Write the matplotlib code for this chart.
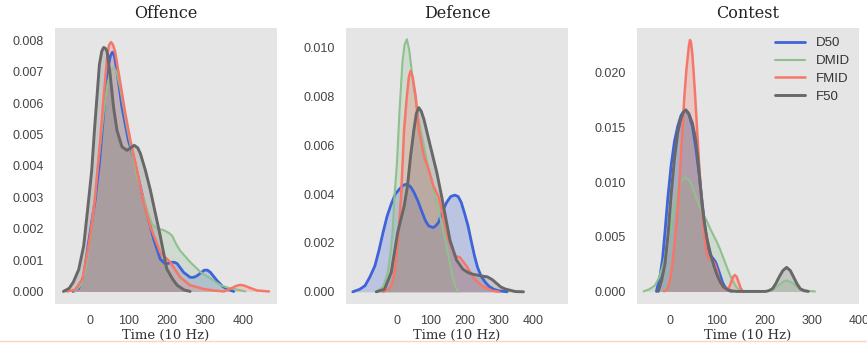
import matplotlib
matplotlib.use("Agg")
import matplotlib.pyplot as plt
from matplotlib.lines import Line2D
from matplotlib.ticker import FormatStrFormatter

# ---- Offence ----
off_d50_x = [-45, -30, -17, -5, 5, 13, 24, 35, 42, 48, 53, 58, 63, 70, 83, 100, 113, 139, 166, 183, 196, 205, 213, 220,
             227, 244, 261, 270, 279, 290, 298, 306, 314, 331, 345, 357, 375]
off_d50_y = [0, 0.0001, 0.0005, 0.0015, 0.0023, 0.00293, 0.00408, 0.00567, 0.0067, 0.00723, 0.00752, 0.00763, 0.00752,
             0.00702, 0.00587, 0.0048, 0.00429, 0.00292, 0.00166, 0.00103, 0.00088, 0.0009, 0.00093, 0.00093, 0.00089,
             0.00061, 0.00045, 0.00045, 0.0005, 0.0006, 0.00068, 0.00068, 0.00061, 0.00035, 0.00017, 0.00008, 0]
off_dmid_x = [-40, -25, -13, 0, 10, 22, 35, 45, 52, 58, 63, 70, 78, 96, 122, 148, 161, 170, 179, 188, 196, 206, 214,
              225, 235, 261, 290, 314, 340, 360, 392, 405]
off_dmid_y = [0, 0.0002, 0.0006, 0.0017, 0.0028, 0.0042, 0.0057, 0.0066, 0.00698, 0.00712, 0.00713, 0.00695, 0.0065,
              0.00524, 0.00366, 0.00261, 0.00215, 0.00205, 0.00199, 0.00197, 0.00193, 0.00186, 0.00178, 0.0015, 0.0013,
              0.00094, 0.0006, 0.00041, 0.0002, 0.00012, 0.00004, 0]
off_fmid_x = [-61, -40, -20, -5, 5, 13, 20, 26, 35, 44, 49, 54, 59, 65, 78, 92, 105, 122, 140, 157, 183, 209, 235, 261,
              296, 322, 349, 366, 380, 391, 402, 414, 436, 467]
off_fmid_y = [0, 0.00005, 0.0004, 0.0014, 0.0022, 0.00303, 0.004, 0.00482, 0.00618, 0.00744, 0.00785, 0.00795, 0.00788,
              0.00765, 0.0067, 0.00566, 0.00482, 0.00387, 0.0028, 0.00208, 0.00124, 0.00094, 0.00045, 0.0002, 0.00008,
              0.00003, 0, 0.00008, 0.00017, 0.00021, 0.00019, 0.00013, 0.00003, 0]
off_f50_x = [-70, -55, -44, -30, -17, -4, 4, 11, 17.5, 24, 30, 35, 40, 44, 52, 61, 70, 83, 96, 106, 115, 124, 131, 144,
             157, 170, 183, 200, 215, 227, 245, 261]
off_f50_y = [0, 0.0001, 0.0003, 0.0007, 0.00146, 0.00293, 0.00387, 0.00513, 0.00618, 0.00723, 0.00765, 0.00778,
             0.00775, 0.00765, 0.00692, 0.00587, 0.00513, 0.00461, 0.0045, 0.00458, 0.00466, 0.00458, 0.0044, 0.00387,
             0.00324, 0.0025, 0.00177, 0.00072, 0.0004, 0.0002, 0.00005, 0]

# ---- Defence ----
def_d50_x = [-130, -110, -94, -80, -65, -53, -41, -29, -17, -5, 7, 18, 29, 40, 50, 62, 74, 84, 93, 106, 114, 122, 134,
             146, 158, 170, 180, 189, 199, 209, 218, 228, 237, 247, 259, 271, 285, 300, 324]
def_d50_y = [0, 0.0001, 0.00025, 0.0006, 0.00106, 0.0017, 0.00243, 0.0031, 0.00359, 0.004, 0.0042, 0.00436, 0.00441,
             0.0043, 0.00407, 0.0037, 0.00325, 0.0029, 0.0027, 0.00263, 0.0027, 0.00284, 0.0033, 0.00366, 0.0039,
             0.00396, 0.0039, 0.00366, 0.0032, 0.0027, 0.0021, 0.00147, 0.001, 0.00065, 0.0004, 0.00022, 0.0001,
             0.00004, 0]
def_dmid_x = [-60, -41, -27, -18, -12, -8, 0, 7, 16, 22, 29, 36, 42, 50, 60, 70, 83, 98, 115, 130, 145, 155, 165, 172,
              180]
def_dmid_y = [0, 0.0002, 0.0008, 0.0017, 0.0026, 0.0038, 0.0053, 0.0073, 0.0094, 0.0101, 0.01034, 0.0099, 0.0092,
              0.0083, 0.0074, 0.0066, 0.0057, 0.0047, 0.0038, 0.0029, 0.0019, 0.0012, 0.0005, 0.0002, 0]
def_fmid_x = [-40, -25, -15, -8, -3, 5, 12, 21, 29, 35, 40, 46, 55, 64, 79, 93, 107, 122, 132, 151, 170, 185, 204, 228,
              252, 281, 300]
def_fmid_y = [0, 0.0001, 0.0003, 0.0007, 0.0012, 0.0025, 0.00393, 0.00666, 0.008, 0.0088, 0.00904, 0.0088, 0.008,
              0.00666, 0.00556, 0.00502, 0.00434, 0.0039, 0.0033, 0.00216, 0.00147, 0.00141, 0.00106, 0.00052, 0.00022,
              0.00004, 0]
def_f50_x = [-61, -37, -17, 2, 21, 31, 40, 50, 57, 64, 71, 79, 98, 117, 131, 145, 156, 175, 194, 210, 223, 247, 266,
             280, 290, 305, 319, 348, 372]
def_f50_y = [0, 0.0001, 0.00079, 0.00243, 0.0035, 0.00434, 0.00556, 0.00666, 0.0073, 0.00754, 0.0074, 0.00707,
             0.00597, 0.00489, 0.00393, 0.0029, 0.0021, 0.0013, 0.00092, 0.00078, 0.00072, 0.00065, 0.00061, 0.0005,
             0.00038, 0.0002, 0.00011, 0.00001, 0]

# ---- Contest ----
con_d50_x = [-28, -20, -15, -10, -4, 3, 10, 17, 24, 30, 34, 40, 48, 55, 62, 69, 76, 81, 86, 92, 97, 102, 107, 112, 117,
             124, 131]
con_d50_y = [0, 0.0015, 0.003, 0.0054, 0.0085, 0.0115, 0.0137, 0.0151, 0.0161, 0.0165, 0.0166, 0.0163, 0.0151, 0.0132,
             0.0108, 0.008, 0.0054, 0.0041, 0.0033, 0.003, 0.0027, 0.0021, 0.00145, 0.0008, 0.0004, 0.0001, 0]
con_dmid_x = [-55, -43, -31, -22, -14, -7, 0, 7, 14, 19, 24, 29, 34, 40, 45, 55, 62, 69, 78, 86, 93, 100, 107, 114, 121,
              128, 134, 141, 148, 155, 200, 210, 217, 225, 234, 240, 247, 254, 262, 270, 279, 292, 307]
con_dmid_y = [0, 0.0002, 0.00055, 0.0013, 0.0024, 0.0038, 0.0054, 0.0071, 0.0087, 0.0095, 0.0101, 0.0103, 0.0104,
              0.0102, 0.0099, 0.0087, 0.0079, 0.0072, 0.0065, 0.0057, 0.0051, 0.0045, 0.0038, 0.003, 0.0022, 0.00145,
              0.0009, 0.0004, 0.0001, 0, 0, 0.00005, 0.0001, 0.0004, 0.0007, 0.0009, 0.001, 0.0009, 0.0007, 0.0004,
              0.0002, 0.00005, 0]
con_fmid_x = [-12, -5, 0, 5, 10, 16, 21, 26, 31, 35, 38, 41, 43, 45, 48, 51, 54, 58, 62, 67, 72, 76, 79, 83, 88, 93, 97,
              100, 105, 110, 116, 122, 127, 131, 135, 138, 142, 146, 150, 155]
con_fmid_y = [0, 0.0002, 0.00085, 0.0022, 0.0042, 0.007, 0.0102, 0.014, 0.0178, 0.0201, 0.0214, 0.0226, 0.0230, 0.0228,
              0.0217, 0.0198, 0.0178, 0.0148, 0.0118, 0.0085, 0.0057, 0.004, 0.0033, 0.003, 0.0029, 0.0027, 0.0023,
              0.0019, 0.0011, 0.0006, 0.0002, 0.0002, 0.0005, 0.001, 0.0014, 0.0015, 0.0013, 0.0008, 0.0003, 0]
con_f50_x = [-24, -17, -10, -3, 3, 10, 17, 23, 29, 34, 41, 48, 54, 59, 64, 69, 74, 79, 86, 93, 100, 107, 114, 121, 131,
             141, 203, 210, 217, 224, 231, 239, 247, 255, 262, 269, 276, 284, 293]
con_f50_y = [0, 0.001, 0.0025, 0.0054, 0.0088, 0.0121, 0.0145, 0.0157, 0.0164, 0.0166, 0.0162, 0.0154, 0.0141, 0.0124,
             0.0101, 0.0078, 0.0061, 0.0048, 0.0035, 0.0024, 0.0015, 0.00085, 0.0004, 0.0002, 0.00005, 0, 0, 0.00008,
             0.00024, 0.0007, 0.0013, 0.0019, 0.0022, 0.0019, 0.0013, 0.0007, 0.00024, 0.00006, 0]

labels = ["D50", "DMID", "FMID", "F50"]
colors = ["#3f63d8", "#8fc08f", "#f5776a", "#686868"]
widths = [2.0, 1.5, 1.8, 2.1]

panels = [
    ("Offence", [(off_d50_x, off_d50_y), (off_dmid_x, off_dmid_y), (off_fmid_x, off_fmid_y), (off_f50_x, off_f50_y)],
     (-92, 488), (-0.0004, 0.0084), [0, 0.001, 0.002, 0.003, 0.004, 0.005, 0.006, 0.007, 0.008]),
    ("Defence", [(def_d50_x, def_d50_y), (def_dmid_x, def_dmid_y), (def_fmid_x, def_fmid_y), (def_f50_x, def_f50_y)],
     (-150, 503), (-0.0005, 0.0108), [0, 0.002, 0.004, 0.006, 0.008, 0.010]),
    ("Contest", [(con_d50_x, con_d50_y), (con_dmid_x, con_dmid_y), (con_fmid_x, con_fmid_y), (con_f50_x, con_f50_y)],
     (-69, 400), (-0.00115, 0.0241), [0, 0.005, 0.010, 0.015, 0.020]),
]
lefts = [55 / 867, 346 / 867, 637 / 867]

fig = plt.figure(figsize=(8.67, 3.45), dpi=100)
for i, (title, series, xl, yl, yt) in enumerate(panels):
    ax = fig.add_axes([lefts[i], 41 / 345, 222 / 867, 276 / 345])
    ax.set_facecolor("#e5e5e5")
    for (xs, ys), lab, c, w in zip(series, labels, colors, widths):
        ax.fill_between(xs, ys, 0, color=c, alpha=0.25, lw=0)
        ax.plot(xs, ys, color=c, lw=w, label=lab, solid_joinstyle="round", solid_capstyle="round")
    ax.set_xticks([0, 100, 200, 300, 400])
    ax.set_xlim(*xl)
    ax.set_ylim(*yl)
    ax.set_yticks(yt)
    ax.yaxis.set_major_formatter(FormatStrFormatter("%.3f"))
    for s in ax.spines.values():
        s.set_visible(False)
    ax.tick_params(length=0, pad=8, labelsize=9, labelcolor="#444444")
    for t in ax.get_xticklabels() + ax.get_yticklabels():
        t.set_fontfamily("Liberation Sans")
    ax.set_title(title, family="DejaVu Serif", fontsize=11.5, color="#222222", pad=7)
    ax.set_xlabel("Time (10 Hz)", family="DejaVu Serif", fontsize=9.5, color="#333333", labelpad=1)
    if i == 2:
        ax.legend(loc="upper right", frameon=False, prop={"family": "Liberation Sans", "size": 9.5},
                  handlelength=2.3, labelspacing=0.42, borderaxespad=0.3, labelcolor="#333333")

fig.add_artist(Line2D([0, 1], [0.013, 0.013], transform=fig.transFigure, color="#fcd3c4", lw=1))

fig.savefig("out.png", dpi=100)
